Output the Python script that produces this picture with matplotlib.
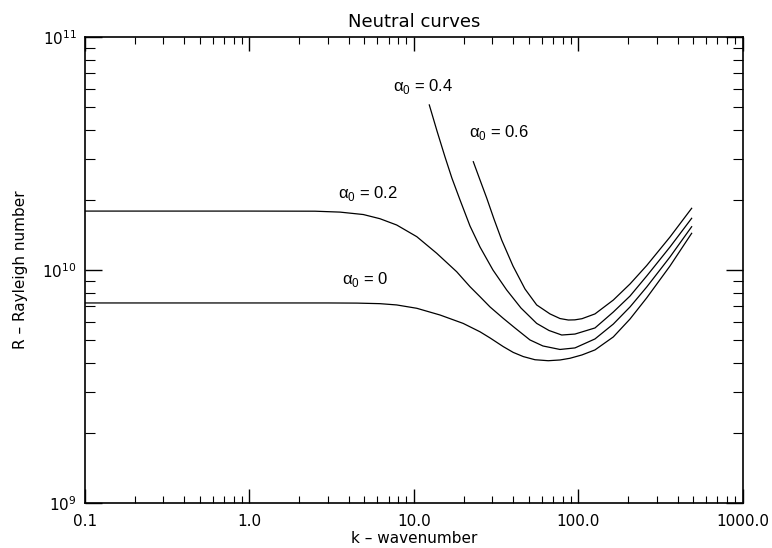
import numpy as np
import matplotlib
matplotlib.use("Agg")
import matplotlib.pyplot as plt
from matplotlib.ticker import LogLocator, NullFormatter

# Neutral curves (k = wavenumber, R = Rayleigh number)
k_a00 = [0.1, 1.0, 3.0, 4.5, 6.21, 7.85, 10.4, 14.4, 19.9, 25.2, 29.0, 34.9,
         40.1, 46.2, 54.4, 65.5, 77.2, 88.8, 105.0, 126.0, 162.8, 205.7,
         259.8, 359.9, 487.5]
R_a00 = [7.22e9, 7.22e9, 7.22e9, 7.21e9, 7.17e9, 7.08e9, 6.85e9, 6.41e9,
         5.90e9, 5.43e9, 5.11e9, 4.69e9, 4.43e9, 4.25e9, 4.12e9, 4.08e9,
         4.11e9, 4.18e9, 4.32e9, 4.54e9, 5.16e9, 6.16e9, 7.59e9, 1.04e10,
         1.437e10]

k_a02 = [0.1, 1.0, 2.5, 3.55, 4.92, 6.21, 7.85, 10.4, 13.74, 18.18, 21.9,
         25.2, 29.0, 34.9, 41.1, 50.7, 60.8, 77.2, 95.2, 126.0, 162.8, 205.7,
         259.8, 359.9, 487.5]
R_a02 = [1.79e10, 1.79e10, 1.788e10, 1.772e10, 1.73e10, 1.66e10, 1.56e10,
         1.39e10, 1.18e10, 9.83e9, 8.48e9, 7.68e9, 6.94e9, 6.20e9, 5.64e9,
         5.01e9, 4.72e9, 4.56e9, 4.63e9, 5.06e9, 5.86e9, 6.94e9, 8.45e9,
         1.137e10, 1.534e10]

k_a04 = [12.39, 13.8, 15.43, 17.0, 19.04, 21.9, 25.2, 30.2, 36.6, 44.7, 55.7,
         66.2, 79.1, 95.2, 126.0, 162.8, 205.7, 259.8, 359.9, 487.5]
R_a04 = [5.11e10, 3.95e10, 3.06e10, 2.48e10, 2.0e10, 1.545e10, 1.255e10,
         1.0e10, 8.21e9, 6.87e9, 5.90e9, 5.50e9, 5.26e9, 5.31e9, 5.64e9,
         6.60e9, 7.73e9, 9.42e9, 1.255e10, 1.667e10]

k_a06 = [22.94, 25.2, 27.67, 30.64, 34.13, 39.99, 47.29, 55.7, 67.1, 77.2,
         86.8, 95.0, 105.0, 126.0, 162.8, 205.7, 259.8, 359.9, 487.5]
R_a06 = [2.916e10, 2.434e10, 2.037e10, 1.655e10, 1.345e10, 1.04e10, 8.29e9,
         7.08e9, 6.48e9, 6.19e9, 6.10e9, 6.11e9, 6.18e9, 6.48e9, 7.43e9,
         8.71e9, 1.045e10, 1.385e10, 1.84e10]

xtick_vals = [0.1, 1.0, 10.0, 100.0, 1000.0]
xtick_labels = ["0.1", "1.0", "10.0", "100.0", "1000.0"]


def main() -> None:
	plt.rcParams["font.family"] = "DejaVu Sans"
	plt.rcParams["mathtext.fontset"] = "custom"
	plt.rcParams["mathtext.rm"] = "Liberation Sans"

	fig = plt.figure(figsize=(7.72, 5.48), dpi=100)
	ax = fig.add_axes([0.1101, 0.0821, 0.8523, 0.8504])

	for k, R in [(k_a00, R_a00), (k_a02, R_a02), (k_a04, R_a04), (k_a06, R_a06)]:
		ax.plot(k, R, color="black", lw=0.9)

	ax.set_xscale("log")
	ax.set_yscale("log")
	ax.set_xlim(0.1, 1000.0)
	ax.set_ylim(1e9, 1e11)

	ax.set_xticks(xtick_vals)
	ax.set_xticklabels(xtick_labels)
	ax.xaxis.set_minor_locator(LogLocator(base=10, subs=np.arange(2, 10)))
	ax.yaxis.set_minor_locator(LogLocator(base=10, subs=np.arange(2, 10)))
	ax.xaxis.set_minor_formatter(NullFormatter())
	ax.yaxis.set_minor_formatter(NullFormatter())

	ax.tick_params(which="both", direction="in", top=True, right=True, labelsize=11)
	ax.tick_params(axis="x", which="major", length=10, width=1.0, pad=8)
	ax.tick_params(axis="x", which="minor", length=5, width=0.8)
	ax.tick_params(axis="y", which="major", length=12, width=1.0, pad=6)
	ax.tick_params(axis="y", which="minor", length=7, width=0.8)
	for s in ax.spines.values():
		s.set_linewidth(1.2)

	ax.set_title("Neutral curves", fontsize=13, pad=7)
	ax.set_xlabel("k – wavenumber", fontsize=11, labelpad=1)
	ax.set_ylabel("R – Rayleigh number", fontsize=11, labelpad=10)

	lab = dict(fontsize=12, family="Liberation Sans", ha="left", va="baseline")
	ax.text(7.45, 5.88e10, r"$\mathrm{\alpha}_\mathrm{0}$ = 0.4", **lab)
	ax.text(21.7, 3.71e10, r"$\mathrm{\alpha}_\mathrm{0}$ = 0.6", **lab)
	ax.text(3.47, 2.03e10, r"$\mathrm{\alpha}_\mathrm{0}$ = 0.2", **lab)
	ax.text(3.64, 8.71e9, r"$\mathrm{\alpha}_\mathrm{0}$ = 0", **lab)

	fig.savefig("out.png", dpi=100)


if __name__ == "__main__":
	main()
